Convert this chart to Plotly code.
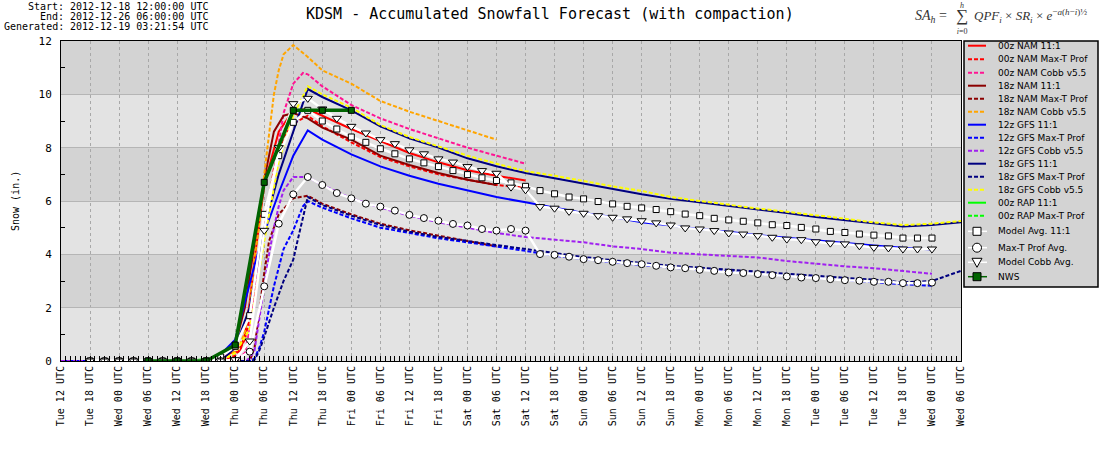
import datetime as dt
import plotly.graph_objects as go

# ---------------- data (hours after 2012-12-18 12 UTC, snowfall in inches) ----------------
T0 = dt.datetime(2012, 12, 18, 12)
T_END_H = 186

nam00_11_h = [12, 15, 18, 21, 24, 27, 30, 33, 34, 35, 37, 38, 39, 40, 42, 45, 48, 51, 54, 60, 66, 72, 78, 84, 90, 96]
nam00_11_v = [0, 0, 0, 0, 0, 0, 0, 0.05, 0.2, 0.3, 0.35, 1.0, 2.2, 3.8, 6.6, 8.6, 9.4, 9.45, 9.2, 8.7, 8.25, 7.8, 7.45, 7.15, 6.95, 6.77]

nam00_mt_h = [12, 15, 18, 21, 24, 27, 30, 33, 36, 38, 40, 42, 44, 46, 48, 51, 54, 60, 66, 72, 78, 84, 90, 96]
nam00_mt_v = [0, 0, 0, 0, 0, 0, 0, 0, 0.2, 0.8, 2.5, 5.0, 7.2, 8.4, 8.9, 9.2, 8.8, 8.2, 7.65, 7.3, 7.0, 6.8, 6.6, 6.5]

nam00_cobb_h = [12, 15, 18, 21, 24, 27, 30, 33, 36, 38, 39, 40, 42, 44, 46, 48, 50, 51, 54, 60, 66, 72, 78, 84, 90, 96]
nam00_cobb_v = [0, 0, 0, 0, 0, 0, 0, 0, 0, 0.3, 1.2, 2.8, 4.9, 7.0, 9.3, 10.4, 10.8, 10.75, 10.3, 9.6, 9.1, 8.7, 8.35, 8.0, 7.7, 7.4]

nam18_11_h = [6, 9, 12, 15, 18, 21, 24, 27, 30, 33, 36, 38, 40, 42, 44, 46, 48, 51, 54, 60, 66, 72, 78, 84, 90]
nam18_11_v = [0, 0, 0, 0, 0, 0, 0, 0, 0, 0.1, 0.6, 2.0, 4.4, 6.8, 8.6, 9.2, 9.3, 9.1, 8.75, 8.3, 7.7, 7.35, 7.05, 6.8, 6.6]

nam18_mt_h = [6, 9, 12, 15, 18, 21, 24, 27, 30, 33, 36, 39, 40, 41, 42, 43, 45, 48, 51, 54, 60, 66, 72, 78, 84, 90]
nam18_mt_v = [0, 0, 0, 0, 0, 0, 0, 0, 0, 0, 0, 0, 0.5, 2.0, 3.3, 4.5, 5.5, 6.1, 6.2, 5.9, 5.5, 5.15, 4.9, 4.7, 4.5, 4.3]

nam18_cobb_h = [6, 9, 12, 15, 18, 21, 24, 27, 30, 33, 35, 37, 38, 39, 40, 41, 42, 43, 44, 45, 46, 48, 51, 54, 60, 66, 72, 78, 84, 90]
nam18_cobb_v = [0, 0, 0, 0, 0, 0, 0, 0, 0, 0, 0.2, 0.6, 1.1, 2.0, 3.9, 5.1, 7.0, 8.5, 10.0, 10.9, 11.5, 11.85, 11.4, 10.9, 10.4, 9.75, 9.35, 9.0, 8.65, 8.3]

gfs12_11_h = [0, 3, 6, 9, 12, 15, 18, 21, 24, 27, 30, 33, 36, 38, 40, 42, 45, 48, 51, 54,
              60, 66, 72, 78, 84, 90, 96, 102, 108, 114, 120, 126, 132, 138, 144, 150, 156, 162, 168, 174, 180]
gfs12_11_v = [0, 0, 0, 0, 0, 0, 0, 0, 0, 0, 0, 0.25, 0.8, 2.2, 3.6, 4.8, 6.3, 7.7, 8.65, 8.3,
              7.75, 7.3, 6.95, 6.65, 6.4, 6.15, 5.95, 5.75, 5.55, 5.4, 5.2, 5.08, 4.95, 4.85, 4.72, 4.62, 4.52, 4.42, 4.33, 4.25, 4.18]

gfs12_mt_h = [0, 3, 6, 9, 12, 15, 18, 21, 24, 27, 30, 33, 36, 39, 40, 41, 42, 43, 44, 46, 48, 50, 51, 54, 60,
              66, 72, 78, 84, 90, 96, 102, 108, 114, 120, 126, 132, 138, 144, 150, 156, 162, 168, 174, 180]
gfs12_mt_v = [0, 0, 0, 0, 0, 0, 0, 0, 0, 0, 0, 0, 0, 0, 0.1, 0.5, 1.1, 2.0, 2.8, 4.2, 4.9, 5.8, 6.0, 5.75, 5.35,
              5.0, 4.8, 4.6, 4.45, 4.3, 4.13, 3.95, 3.82, 3.7, 3.6, 3.5, 3.43, 3.35, 3.28, 3.2, 3.12, 3.03, 2.95, 2.88, 2.82]

gfs12_cobb_h = [0, 3, 6, 9, 12, 15, 18, 21, 24, 27, 30, 33, 36, 38, 39, 40, 41, 42, 43, 44, 45, 46, 48, 51, 54,
                60, 66, 72, 78, 84, 90, 96, 102, 108, 114, 120, 126, 132, 138, 144, 150, 156, 162, 168, 174, 180]
gfs12_cobb_v = [0, 0, 0, 0, 0, 0, 0, 0, 0, 0, 0, 0, 0, 0, 0.1, 0.4, 1.6, 2.8, 4.0, 5.0, 5.8, 6.4, 6.9, 6.9, 6.6,
                6.1, 5.75, 5.45, 5.2, 5.0, 4.8, 4.65, 4.55, 4.45, 4.3, 4.2, 4.06, 4.0, 3.93, 3.88, 3.75, 3.65, 3.55, 3.48, 3.38, 3.27]

gfs18_11_h = [6, 9, 12, 15, 18, 21, 24, 27, 30, 33, 36, 39, 42, 45, 48, 51, 54, 60, 66, 72, 78, 84, 90, 96,
              102, 108, 114, 120, 126, 132, 138, 144, 150, 156, 162, 168, 174, 180, 186]
gfs18_11_v = [0, 0, 0, 0, 0, 0, 0, 0, 0, 0, 0.5, 2.0, 5.0, 7.0, 8.6, 10.2, 9.9, 9.4, 8.8, 8.35, 8.0, 7.6, 7.3, 7.05,
              6.85, 6.65, 6.45, 6.25, 6.08, 5.95, 5.82, 5.7, 5.55, 5.4, 5.28, 5.15, 5.04, 5.1, 5.2]

gfs18_mt_h = [6, 9, 12, 15, 18, 21, 24, 27, 30, 33, 36, 39, 40, 41, 42, 44, 46, 48, 49, 50, 51, 54, 60,
              66, 72, 78, 84, 90, 96, 102, 108, 114, 120, 126, 132, 138, 144, 150, 156, 162, 168, 174, 180, 186]
gfs18_mt_v = [0, 0, 0, 0, 0, 0, 0, 0, 0, 0, 0, 0, 0.05, 0.4, 0.9, 2.0, 3.0, 3.8, 4.6, 5.4, 6.15, 5.85, 5.45,
              5.1, 4.85, 4.65, 4.5, 4.35, 4.22, 4.05, 3.9, 3.78, 3.68, 3.57, 3.5, 3.42, 3.35, 3.27, 3.2, 3.12, 3.05, 2.95, 3.0, 3.38]

gfs18_cobb_h = [6, 9, 12, 15, 18, 21, 24, 27, 30, 33, 36, 39, 42, 45, 48, 51, 54, 60, 66,
                72, 78, 84, 90, 96, 102, 108, 114, 120, 126, 132, 138, 144, 150, 156, 162, 168, 174, 180, 186]
gfs18_cobb_v = [0, 0, 0, 0, 0, 0, 0, 0, 0, 0, 0.3, 1.2, 4.5, 7.5, 9.2, 10.3, 10.0, 9.5, 8.85,
                8.4, 8.05, 7.7, 7.4, 7.12, 6.95, 6.75, 6.55, 6.38, 6.15, 6.0, 5.85, 5.72, 5.6, 5.47, 5.33, 5.2, 5.1, 5.15, 5.25]

rap00_11_h = [12, 15, 18, 21, 24, 27, 30]
rap00_11_v = [0, 0, 0, 0, 0, 0.02, 0.08]
rap00_mt_h = [12, 15, 18, 21, 24, 27, 30]
rap00_mt_v = [0, 0, 0, 0, 0, 0.01, 0.04]

avg_h = [6, 9, 12, 15, 18, 21, 24, 27, 30, 33, 36, 39, 42, 45, 48, 51, 54, 57, 60,
         63, 66, 69, 72, 75, 78, 81, 84, 87, 90, 93, 96, 99, 102, 105, 108, 111, 114, 117, 120,
         123, 126, 129, 132, 135, 138, 141, 144, 147, 150, 153, 156, 159, 162, 165, 168, 171, 174, 177, 180]
avg_11_v = [0, 0, 0, 0, 0, 0, 0, 0, 0, 0.15, 0.55, 1.7, 5.5, 7.7, 8.95, 9.4, 9.0, 8.7, 8.4,
            8.2, 7.96, 7.77, 7.58, 7.43, 7.29, 7.14, 6.99, 6.87, 6.77, 6.68, 6.55, 6.39, 6.27, 6.15, 6.08, 5.98, 5.89, 5.80, 5.74,
            5.68, 5.60, 5.51, 5.45, 5.35, 5.29, 5.24, 5.18, 5.11, 5.08, 5.01, 4.95, 4.86, 4.82, 4.76, 4.72, 4.69, 4.61, 4.61, 4.61]
avg_mt_v = [0, 0, 0, 0, 0, 0, 0, 0, 0, 0, 0.02, 0.35, 2.8, 5.15, 6.25, 6.9, 6.6, 6.3, 6.1,
            5.9, 5.79, 5.64, 5.48, 5.36, 5.26, 5.14, 5.08, 4.95, 4.89, 4.95, 4.89, 4.01, 3.98, 3.91, 3.82, 3.78, 3.72, 3.67, 3.63,
            3.57, 3.51, 3.48, 3.42, 3.38, 3.32, 3.30, 3.26, 3.22, 3.17, 3.13, 3.11, 3.07, 3.03, 3.01, 2.97, 2.97, 2.92, 2.92, 2.94]
avg_cobb_v = [0, 0, 0, 0, 0, 0, 0, 0, 0, 0, 0.05, 0.75, 4.9, 8.0, 9.65, 9.85, 9.45, 9.1, 8.8,
              8.55, 8.3, 8.15, 7.92, 7.77, 7.58, 7.46, 7.29, 7.14, 7.04, 6.52, 6.42, 5.79, 5.73, 5.61, 5.54, 5.45, 5.39, 5.33, 5.26,
              5.18, 5.10, 4.99, 4.95, 4.89, 4.80, 4.76, 4.70, 4.64, 4.57, 4.55, 4.47, 4.42, 4.39, 4.32, 4.26, 4.24, 4.20, 4.20, 4.20]

nws_h = [18, 24, 30, 36, 42, 48, 54, 60]
nws_v = [0, 0, 0, 0.6, 6.7, 9.4, 9.4, 9.4]

# ---------------- styles ----------------
DASH = "4px,2px"
MODELS = [
    ("00z NAM 11:1", nam00_11_h, nam00_11_v, "#ff0000", "solid"),
    ("00z NAM Max-T Prof", nam00_mt_h, nam00_mt_v, "#ff0000", DASH),
    ("00z NAM Cobb v5.5", nam00_cobb_h, nam00_cobb_v, "#ff1493", DASH),
    ("18z NAM 11:1", nam18_11_h, nam18_11_v, "#8b0000", "solid"),
    ("18z NAM Max-T Prof", nam18_mt_h, nam18_mt_v, "#8b0000", DASH),
    ("18z NAM Cobb v5.5", nam18_cobb_h, nam18_cobb_v, "#ffa500", DASH),
    ("12z GFS 11:1", gfs12_11_h, gfs12_11_v, "#0000ff", "solid"),
    ("12z GFS Max-T Prof", gfs12_mt_h, gfs12_mt_v, "#0000ff", DASH),
    ("12z GFS Cobb v5.5", gfs12_cobb_h, gfs12_cobb_v, "#a020f0", DASH),
    ("18z GFS 11:1", gfs18_11_h, gfs18_11_v, "#000080", "solid"),
    ("18z GFS Max-T Prof", gfs18_mt_h, gfs18_mt_v, "#000080", DASH),
    ("18z GFS Cobb v5.5", gfs18_cobb_h, gfs18_cobb_v, "#ffff00", DASH),
    ("00z RAP 11:1", rap00_11_h, rap00_11_v, "#00ff00", "solid"),
    ("00z RAP Max-T Prof", rap00_mt_h, rap00_mt_v, "#00ff00", DASH),
]
AVGS = [
    ("Model Avg. 11:1", avg_11_v, "square", 6),
    ("Max-T Prof Avg.", avg_mt_v, "circle", 7),
    ("Model Cobb Avg.", avg_cobb_v, "triangle-down", 8),
]


def tx(hours):
    return [T0 + dt.timedelta(hours=h) for h in hours]


fig = go.Figure()
for name, h, v, color, dash in MODELS:
    fig.add_trace(go.Scatter(x=tx(h), y=v, mode="lines", name=name, showlegend=False,
                             line=dict(color=color, width=2, dash=dash)))
for name, v, sym, size in AVGS:
    fig.add_trace(go.Scatter(x=tx(avg_h), y=v, mode="lines+markers", name=name, showlegend=False,
                             line=dict(color="white", width=2.5),
                             marker=dict(symbol=sym, size=size, color="white",
                                         line=dict(color="black", width=1))))
fig.add_trace(go.Scatter(x=tx(nws_h), y=nws_v, mode="lines+markers", name="NWS", showlegend=False,
                         line=dict(color="#006400", width=3.5),
                         marker=dict(symbol="square", size=6, color="#006400",
                                     line=dict(color="black", width=1))))

# ---------------- layout helpers (pixel -> paper) ----------------
L, R, T, B = 61, 139, 41, 89
W, H = 1100, 450
PW, PH = W - L - R, H - T - B


def px(x):
    return (x - L) / PW


def py(y):
    return (H - B - y) / PH


shapes = []
# alternating horizontal bands
for y0 in (2, 6, 10):
    shapes.append(dict(type="rect", xref="paper", yref="y", x0=0, x1=1, y0=y0, y1=y0 + 2,
                       fillcolor="#d3d3d3", line=dict(width=0), layer="below"))

# legend box
shapes.append(dict(type="rect", xref="paper", yref="paper", x0=px(964), x1=px(1098),
                   y0=py(287), y1=py(41), fillcolor="#d3d3d3", line=dict(color="black", width=1.5)))

annotations = []
LEG_FONT = dict(family="DejaVu Sans", size=9, color="black")
line_ys = [45.7, 59.3, 72.7, 85.7, 98.7, 111.7, 124.7, 137.7, 150.7, 163.7, 176.7, 189.7, 202.7, 215.7]
for (name, _h, _v, color, dash), yc in zip(MODELS, line_ys):
    shapes.append(dict(type="line", xref="paper", yref="paper", x0=px(968), x1=px(986),
                       y0=py(yc), y1=py(yc), line=dict(color=color, width=2, dash=dash)))
    annotations.append(dict(xref="paper", yref="paper", x=px(996), y=py(yc), text=name,
                            showarrow=False, xanchor="left", yanchor="middle", font=LEG_FONT))

marker_ys = [231.3, 247.7, 262.3, 276.7]
marker_items = [("Model Avg. 11:1", "white", "white", "rect"),
                ("Max-T Prof Avg.", "white", "white", "circle"),
                ("Model Cobb Avg.", "white", "white", "tri"),
                ("NWS", "#006400", "#006400", "rect")]
for (name, lcol, fcol, kind), yc in zip(marker_items, marker_ys):
    shapes.append(dict(type="line", xref="paper", yref="paper", x0=px(968), x1=px(987),
                       y0=py(yc), y1=py(yc), line=dict(color=lcol, width=1.5)))
    common = dict(xref="paper", yref="paper", xsizemode="pixel", ysizemode="pixel",
                  xanchor=px(977), yanchor=py(yc), fillcolor=fcol, line=dict(color="black", width=1))
    if kind == "rect":
        shapes.append(dict(type="rect", x0=-4, x1=4, y0=-4, y1=4, **common))
    elif kind == "circle":
        shapes.append(dict(type="circle", x0=-4.5, x1=4.5, y0=-4.5, y1=4.5, **common))
    else:
        shapes.append(dict(type="path", path="M-5,4 L5,4 L0,-5 Z", **common))
    annotations.append(dict(xref="paper", yref="paper", x=px(996), y=py(yc), text=name,
                            showarrow=False, xanchor="left", yanchor="middle", font=LEG_FONT))

MONO = "DejaVu Sans Mono"
HDR = dict(family=MONO, size=10, color="black")
for lab, val, yc in (("Start:", "2012-12-18 12:00:00 UTC", 6.5),
                     ("End:", "2012-12-26 06:00:00 UTC", 16.5),
                     ("Generated:", "2012-12-19 03:21:54 UTC", 26.5)):
    annotations.append(dict(xref="paper", yref="paper", x=px(66), y=py(yc), text=lab, showarrow=False,
                            xanchor="right", yanchor="middle", font=HDR))
    annotations.append(dict(xref="paper", yref="paper", x=px(68), y=py(yc), text=val, showarrow=False,
                            xanchor="left", yanchor="middle", font=HDR))

annotations.append(dict(xref="paper", yref="paper", x=px(550), y=py(14),
                        text="KDSM - Accumulated Snowfall Forecast (with compaction)",
                        showarrow=False, xanchor="center", yanchor="middle",
                        font=dict(family=MONO, size=15, color="black")))

SERIF = "Liberation Serif"
FCOL = "#333333"
annotations += [
    dict(xref="paper", yref="paper", x=px(949), y=py(16), text="<i>SA<sub>h</sub></i> =",
         showarrow=False, xanchor="right", yanchor="middle", font=dict(family=SERIF, size=14, color=FCOL)),
    dict(xref="paper", yref="paper", x=px(962), y=py(19),
         text="<span style='font-size:8px'><i>h</i></span><br><span style='font-size:17px'>∑</span><br><span style='font-size:8px'><i>i</i>=0</span>",
         showarrow=False, xanchor="center", yanchor="middle", font=dict(family=SERIF, size=10, color=FCOL)),
    dict(xref="paper", yref="paper", x=px(972), y=py(16),
         text="<i>QPF<sub>i</sub></i> × <i>SR<sub>i</sub></i> × <i>e</i><sup>−<i>a</i>(<i>h</i>−<i>i</i>)½</sup>",
         showarrow=False, xanchor="left", yanchor="middle", font=dict(family=SERIF, size=13, color=FCOL)),
    dict(xref="paper", yref="paper", x=px(15), y=py(201), text="Snow (in.)", textangle=-90,
         showarrow=False, xanchor="center", yanchor="middle", font=dict(family=MONO, size=10, color="black")),
]

fig.update_layout(
    width=W, height=H,
    margin=dict(l=L, r=R, t=T, b=B, autoexpand=False),
    paper_bgcolor="white", plot_bgcolor="#e3e3e3",
    showlegend=False,
    shapes=shapes, annotations=annotations,
    xaxis=dict(type="date", range=[T0, T0 + dt.timedelta(hours=T_END_H)],
               tick0=T0, dtick=6 * 3600 * 1000, tickformat="%a %H UTC", tickangle=-90,
               ticks="inside", ticklen=5, tickcolor="black",
               minor=dict(dtick=3600 * 1000, ticks="inside", ticklen=5, tickcolor="black", showgrid=False),
               showgrid=True, gridcolor="#a8a8a8", griddash="3px,3px", gridwidth=1,
               showline=True, linecolor="black", linewidth=1, mirror=True, zeroline=False,
               tickfont=dict(family=MONO, size=10, color="black")),
    yaxis=dict(range=[0, 12], tick0=0, dtick=2, ticks="", showgrid=True, gridcolor="#b5b5b5", gridwidth=1,
               minor=dict(dtick=1, ticks="inside", ticklen=4, tickcolor="black", showgrid=False),
               showline=True, linecolor="black", linewidth=1, mirror=True, zeroline=False,
               ticklabelstandoff=6,
               tickfont=dict(family=MONO, size=11, color="black")),
)

fig.write_html("out.html", config={"displayModeBar": False},
               post_script="document.body.style.margin='0';document.body.style.overflow='hidden';")
